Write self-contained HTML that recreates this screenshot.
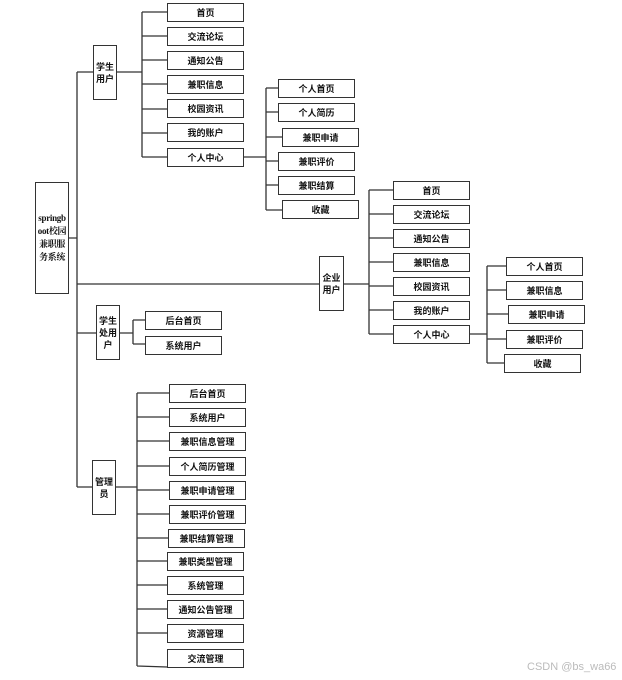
<!DOCTYPE html>
<html><head><meta charset="utf-8"><style>
html,body{margin:0;padding:0;background:#fff;}
body{width:622px;height:680px;position:relative;overflow:hidden;font-family:"Liberation Sans","Noto Sans CJK SC",sans-serif;}
.b{position:absolute;box-sizing:border-box;border:1.5px solid #333;background:#fff;font-size:9px;font-weight:bold;color:#111;display:flex;align-items:center;justify-content:center;text-align:center;line-height:12px;}
.l{width:77px;height:19px;}
svg{position:absolute;left:0;top:0;}
.wm{position:absolute;left:527px;top:661px;font-size:11px;color:#bbb;}
</style></head><body>
<svg width="622" height="680" stroke="#333" stroke-width="1.3" fill="none">
<path d="M69 238H77M77 72V487M77 72H93M77 284H320M77 333H96M77 487H92"/>
<path d="M117 72H142M142 12V157M142 12H167M142 36H167M142 60H167M142 84H167M142 109H167M142 133H167M142 157H167"/>
<path d="M243 157H266M266 88V210M266 88H278M266 112H278M266 137H282M266 161H278M266 185H278M266 210H282"/>
<path d="M344 284H369M369 190V334M369 190H393M369 214H393M369 238H393M369 262H393M369 286H393M369 310H393M369 334H393"/>
<path d="M470 334H487M487 266V363M487 266H506M487 290H506M487 314H508M487 339H506M487 363H504"/>
<path d="M120 333H133M133 320V344M133 320H145M133 344H145"/>
<path d="M116 487H137M137 393V666M137 393H169M137 417H169M137 441H169M137 466H169M137 490H169M137 514H169M137 538H169M137 561H167M137 585H167M137 609H167M137 633H167M137 666L167 667"/>
</svg>
<div class="b" style="left:35px;top:182px;width:34px;height:112px;font-family:'Liberation Serif','Noto Serif CJK SC',serif;font-size:9px;line-height:13px;white-space:nowrap;letter-spacing:-0.3px;">springb<br>oot校园<br>兼职服<br>务系统</div>
<div class="b" style="left:93px;top:45px;width:24px;height:55px;">学生<br>用户</div>
<div class="b" style="left:319px;top:256px;width:25px;height:55px;">企业<br>用户</div>
<div class="b" style="left:96px;top:305px;width:24px;height:55px;">学生<br>处用<br>户</div>
<div class="b" style="left:92px;top:460px;width:24px;height:55px;">管理<br>员</div>

<div class="b l" style="left:167px;top:3px">首页</div>
<div class="b l" style="left:167px;top:27px">交流论坛</div>
<div class="b l" style="left:167px;top:51px">通知公告</div>
<div class="b l" style="left:167px;top:75px">兼职信息</div>
<div class="b l" style="left:167px;top:99px">校园资讯</div>
<div class="b l" style="left:167px;top:123px">我的账户</div>
<div class="b l" style="left:167px;top:148px">个人中心</div>

<div class="b l" style="left:278px;top:79px">个人首页</div>
<div class="b l" style="left:278px;top:103px">个人简历</div>
<div class="b l" style="left:282px;top:128px">兼职申请</div>
<div class="b l" style="left:278px;top:152px">兼职评价</div>
<div class="b l" style="left:278px;top:176px">兼职结算</div>
<div class="b l" style="left:282px;top:200px">收藏</div>

<div class="b l" style="left:393px;top:181px">首页</div>
<div class="b l" style="left:393px;top:205px">交流论坛</div>
<div class="b l" style="left:393px;top:229px">通知公告</div>
<div class="b l" style="left:393px;top:253px">兼职信息</div>
<div class="b l" style="left:393px;top:277px">校园资讯</div>
<div class="b l" style="left:393px;top:301px">我的账户</div>
<div class="b l" style="left:393px;top:325px">个人中心</div>

<div class="b l" style="left:506px;top:257px">个人首页</div>
<div class="b l" style="left:506px;top:281px">兼职信息</div>
<div class="b l" style="left:508px;top:305px">兼职申请</div>
<div class="b l" style="left:506px;top:330px">兼职评价</div>
<div class="b l" style="left:504px;top:354px">收藏</div>

<div class="b l" style="left:145px;top:311px">后台首页</div>
<div class="b l" style="left:145px;top:336px">系统用户</div>

<div class="b l" style="left:169px;top:384px">后台首页</div>
<div class="b l" style="left:169px;top:408px">系统用户</div>
<div class="b l" style="left:169px;top:432px">兼职信息管理</div>
<div class="b l" style="left:169px;top:457px">个人简历管理</div>
<div class="b l" style="left:169px;top:481px">兼职申请管理</div>
<div class="b l" style="left:169px;top:505px">兼职评价管理</div>
<div class="b l" style="left:168px;top:529px">兼职结算管理</div>
<div class="b l" style="left:167px;top:552px">兼职类型管理</div>
<div class="b l" style="left:167px;top:576px">系统管理</div>
<div class="b l" style="left:167px;top:600px">通知公告管理</div>
<div class="b l" style="left:167px;top:624px">资源管理</div>
<div class="b l" style="left:167px;top:649px">交流管理</div>

<div class="wm">CSDN @bs_wa66</div>
</body></html>
